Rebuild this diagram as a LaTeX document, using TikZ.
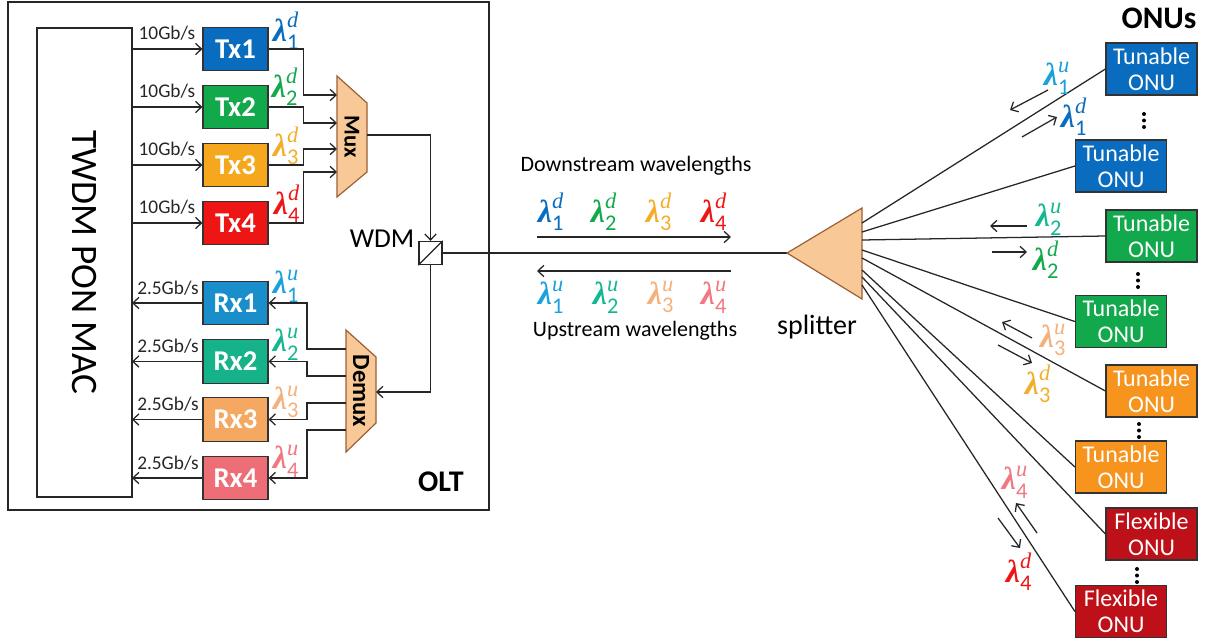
\documentclass[tikz,border=0pt]{standalone}
\usepackage{fontspec}
\usepackage{amsmath}
\setmainfont{Carlito}
\newfontfamily\lsf{Liberation Serif}
\usetikzlibrary{arrows.meta,calc}
\definecolor{cTxA}{HTML}{0A6CBE}
\definecolor{cTxB}{HTML}{12A84C}
\definecolor{cTxC}{HTML}{F5A81E}
\definecolor{cTxD}{HTML}{EE1515}
\definecolor{cRxA}{HTML}{1A8ECA}
\definecolor{cRxB}{HTML}{16B28A}
\definecolor{cRxC}{HTML}{F4A862}
\definecolor{cRxD}{HTML}{EE6E78}
\definecolor{lTxC}{HTML}{F2AE2A}
\definecolor{lRxA}{HTML}{1AA0DA}
\definecolor{lRxB}{HTML}{14B890}
\definecolor{lRxC}{HTML}{F5B07C}
\definecolor{lRxD}{HTML}{F07882}
\definecolor{onuO}{HTML}{F7941D}
\definecolor{onuR}{HTML}{BE1018}
\definecolor{peach}{HTML}{F9C897}
\definecolor{peachline}{HTML}{9A6038}
\newcommand\lamb[2]{$\text{\lsf\bfseries\itshape λ}^{\text{\lsf\itshape #2}}_{\text{#1}}$}
\begin{document}
\begin{tikzpicture}[x=0.75pt,y=-0.75pt,
  line/.style={draw=black!85, line width=0.95pt},
  arr/.style={line, -{Straight Barb[length=4.5pt,width=8.5pt]}},
  box/.style={draw=black!80, line width=0.9pt, minimum width=48.75pt, minimum height=32.5pt, inner sep=0pt, font=\fontsize{21.5}{24}\selectfont\bfseries, text=white},
  onu/.style={draw=black!80, line width=0.9pt, minimum width=68.25pt, minimum height=39pt, inner sep=0pt, align=center, font=\fontsize{18}{19.5}\selectfont, text=white},
  rate/.style={font=\fontsize{14.5}{16}\selectfont, inner sep=0pt, text=black!85},
  lam/.style={font=\fontsize{24}{26}\selectfont, inner sep=0pt},
  prism/.style={fill=peach, draw=peachline, line width=0.9pt}
]
\useasboundingbox (0,0) rectangle (1206,638);

% OLT frame
\draw[line width=1.1pt, draw=black!85] (8,2) rectangle (489,510);
\node[font=\fontsize{22.5}{24}\selectfont\bfseries, inner sep=0pt] (olt) at (441,482) {OLT};

% MAC
\node[draw=black!85, line width=0.95pt, rotate=-90, minimum width=351.75pt, minimum height=71.25pt, inner sep=0pt, font=\fontsize{28}{30}\selectfont] (mac) at (84.5,262.5) {TWDM PON MAC};
\coordinate (macR) at (132,0);

% Tx
\node[box, fill=cTxA] (tx1) at (235.5,49) {Tx1};
\node[box, fill=cTxB] (tx2) at (235.5,107) {Tx2};
\node[box, fill=cTxC] (tx3) at (235.5,165) {Tx3};
\node[box, fill=cTxD] (tx4) at (235.5,223) {Tx4};
% Rx
\node[box, fill=cRxA] (rx1) at (235.5,303) {Rx1};
\node[box, fill=cRxB] (rx2) at (235.5,361.5) {Rx2};
\node[box, fill=cRxC] (rx3) at (235.5,419.5) {Rx3};
\node[box, fill=cRxD] (rx4) at (235.5,478) {Rx4};

% rates
\node[rate] (rt1) at (167,33) {10Gb/s};
\node[rate] (rt2) at (167,91) {10Gb/s};
\node[rate] (rt3) at (167,149) {10Gb/s};
\node[rate] (rt4) at (167,207) {10Gb/s};
\node[rate] (rr1) at (168,288) {2.5Gb/s};
\node[rate] (rr2) at (168,346) {2.5Gb/s};
\node[rate] (rr3) at (168,404) {2.5Gb/s};
\node[rate] (rr4) at (168,463) {2.5Gb/s};

\foreach \n in {tx1,tx2,tx3,tx4} \draw[arr] (macR |- \n) -- (\n.west);
\foreach \n in {rx1,rx2,rx3,rx4} \draw[arr] (\n.west) -- (macR |- \n);

% lambdas at Tx/Rx
\node[lam, text=cTxA] (l1d) at (286,31) {\lamb{1}{d}};
\node[lam, text=cTxB] (l2d) at (285,87) {\lamb{2}{d}};
\node[lam, text=lTxC] (l3d) at (286,146) {\lamb{3}{d}};
\node[lam, text=cTxD] (l4d) at (287,204) {\lamb{4}{d}};
\node[lam, text=lRxA] (l1u) at (286,286) {\lamb{1}{u}};
\node[lam, text=lRxB] (l2u) at (286,344) {\lamb{2}{u}};
\node[lam, text=lRxC] (l3u) at (286,402) {\lamb{3}{u}};
\node[lam, text=lRxD] (l4u) at (286,461) {\lamb{4}{u}};

% Mux
\draw[prism] (337,76) -- (367,103) -- (367,172) -- (337,197) -- cycle;
\node[font=\fontsize{17}{18}\selectfont\bfseries, rotate=-90, inner sep=0pt] (mux) at (352,137) {Mux};
\coordinate (mi1) at (337,95);
\coordinate (mi2) at (337,123);
\coordinate (mi3) at (337,149);
\coordinate (mi4) at (337,172);
\coordinate (mo) at (367,135);
\draw[arr] (tx1.east) -- ++(35,0) |- (mi1);
\draw[arr] (tx2.east) -- ++(35,0) |- (mi2);
\draw[arr] (tx3.east) -- ++(35,0) |- (mi3);
\draw[arr] (tx4.east) -- ++(35,0) |- (mi4);

% WDM
\node[draw=black!85, line width=0.95pt, minimum size=17.25pt, inner sep=0pt] (wdm) at (430.5,253) {};
\draw[line] (wdm.south west) -- (wdm.north east);
\node[font=\fontsize{20.5}{22}\selectfont, inner sep=0pt] (wdml) at (382,239) {WDM};
\draw[arr] (mo) -| (wdm.north);

% Demux
\draw[prism] (346,330) -- (376,357) -- (376,423) -- (346,452) -- cycle;
\node[font=\fontsize{18.5}{20}\selectfont\bfseries, rotate=-90, inner sep=0pt] (demux) at (361,391) {Demux};
\coordinate (dmi) at (376,392);
\coordinate (do1) at (346,349);
\coordinate (do2) at (346,376);
\coordinate (do3) at (346,403);
\coordinate (do4) at (346,430);
\draw[arr] (wdm.south) |- (dmi);
\draw[arr] (do1) -- ++(-39,0) |- (rx1.east);
\draw[arr] (do2) -- ++(-39,0) |- (rx2.east);
\draw[arr] (do3) -- ++(-39,0) |- (rx3.east);
\draw[arr] (do4) -- ++(-39,0) |- (rx4.east);

% feeder fibre and splitter
\coordinate (tip) at (787,253);
\draw[line] (wdm.east) -- (tip);
\draw[prism] (tip) -- (862,208) -- (862,299) -- cycle;
\node[font=\fontsize{21}{23}\selectfont, inner sep=0pt] (spl) at (817,327) {splitter};

% middle
\node[font=\fontsize{16.5}{18}\selectfont, inner sep=0pt] (dsw) at (636,166) {Downstream wavelengths};
\node[font=\fontsize{16.5}{18}\selectfont, inner sep=0pt] (usw) at (635,331) {Upstream wavelengths};
\node[lam, text=cTxA] (m1d) at (551,212) {\lamb{1}{d}};
\node[lam, text=cTxB] (m2d) at (604,212) {\lamb{2}{d}};
\node[lam, text=lTxC] (m3d) at (659,212) {\lamb{3}{d}};
\node[lam, text=cTxD] (m4d) at (714,212) {\lamb{4}{d}};
\node[lam, text=lRxA] (m1u) at (551,297) {\lamb{1}{u}};
\node[lam, text=lRxB] (m2u) at (606,297) {\lamb{2}{u}};
\node[lam, text=lRxC] (m3u) at (661,297) {\lamb{3}{u}};
\node[lam, text=lRxD] (m4u) at (714,297) {\lamb{4}{u}};
\coordinate (ds1) at (537,237);
\coordinate (ds2) at (731,237);
\coordinate (us1) at (731,271);
\coordinate (us2) at (537,271);
\draw[arr] (ds1) -- (ds2);
\draw[arr] (us1) -- (us2);

% ONUs
\node[font=\fontsize{23.5}{25}\selectfont\bfseries, inner sep=0pt] (onus) at (1159,18) {ONUs};
\node[onu, fill=cTxA] (onu1) at (1151.5,69) {Tunable\\ONU};
\node[onu, fill=cTxA] (onu2) at (1121,166) {Tunable\\ONU};
\node[onu, fill=cTxB] (onu3) at (1151.5,236) {Tunable\\ONU};
\node[onu, fill=cTxB] (onu4) at (1121,321.5) {Tunable\\ONU};
\node[onu, fill=onuO] (onu5) at (1151.5,391) {Tunable\\ONU};
\node[onu, fill=onuO] (onu6) at (1121,467) {Tunable\\ONU};
\node[onu, fill=onuR] (onu7) at (1151.5,534) {Flexible\\ONU};
\node[onu, fill=onuR] (onu8) at (1121,611.5) {Flexible\\ONU};

\foreach \x/\y in {1144/114,1138/274,1139/424,1137/569}{
  \fill (\x,\y) circle (1.5pt);
  \fill (\x,\y+6.5) circle (1.5pt);
  \fill (\x,\y+13) circle (1.5pt);
}

% fibres to ONUs
\coordinate (s1) at (862,223);
\coordinate (s2) at (862,232);
\coordinate (s3) at (862,240);
\coordinate (s4) at (862,250);
\coordinate (s5) at (862,258);
\coordinate (s6) at (862,270);
\coordinate (s7) at (862,277);
\coordinate (s8) at (862,285);
\foreach \i in {1,...,8} \draw[line] (s\i) -- (onu\i.west);

% ONU-side lambdas and arrows
\node[lam, text=lRxA] (o1u) at (1057,78) {\lamb{1}{u}};
\node[lam, text=cTxA] (o1d) at (1074,117) {\lamb{1}{d}};
\node[lam, text=lRxB] (o2u) at (1049,219) {\lamb{2}{u}};
\node[lam, text=cTxB] (o2d) at (1046,260) {\lamb{2}{d}};
\node[lam, text=lRxC] (o3u) at (1053,340) {\lamb{3}{u}};
\node[lam, text=lTxC] (o3d) at (1038,384) {\lamb{3}{d}};
\node[lam, text=lRxD] (o4u) at (1015,482) {\lamb{4}{u}};
\node[lam, text=cTxD] (o4d) at (1019,572) {\lamb{4}{d}};

\coordinate (a1ua) at (1048,90);  \coordinate (a1ub) at (1010,110);
\coordinate (a1da) at (1022,137); \coordinate (a1db) at (1057,117);
\coordinate (a2ua) at (1027,226); \coordinate (a2ub) at (990,226);
\coordinate (a2da) at (992,252);  \coordinate (a2db) at (1027,252);
\coordinate (a3ua) at (1032,338); \coordinate (a3ub) at (1002,322);
\coordinate (a3da) at (998,345);  \coordinate (a3db) at (1032,363);
\coordinate (a4ua) at (1037,533); \coordinate (a4ub) at (1016,503);
\coordinate (a4da) at (998,518);  \coordinate (a4db) at (1020,548);
\foreach \k in {1u,1d,2u,2d,3u,3d,4u,4d} \draw[arr] (a\k a) -- (a\k b);

\end{tikzpicture}
\end{document}
